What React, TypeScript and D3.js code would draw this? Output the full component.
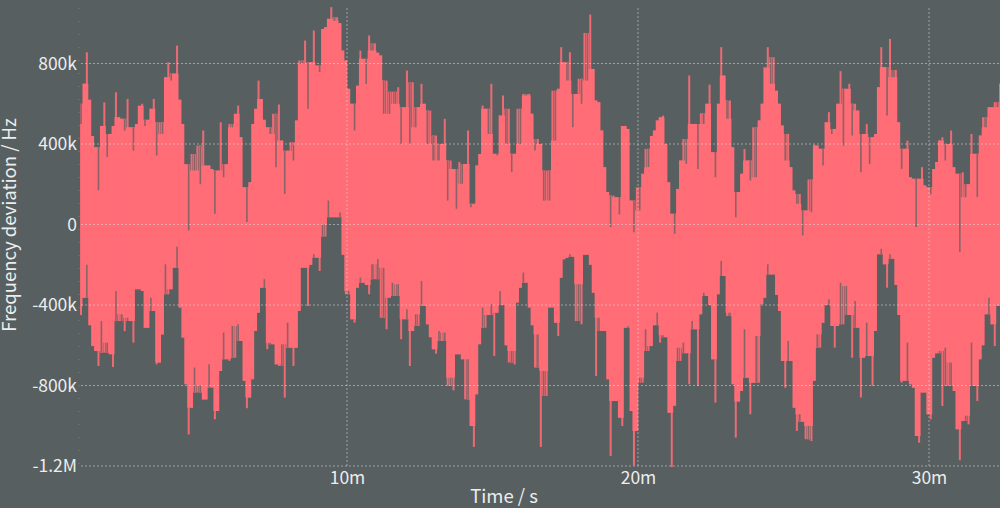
import React, { useEffect, useRef } from "react";
import * as d3 from "d3";

// sample spacing of the envelope, in the x axis unit
const startTime = 0.86;
const sampleStep = 0.1;

// top of the signal, kHz
const upperK = [
  500, 700, 856, 620, 440, 384, 170, 490, 607, 335,
  450, 490, 657, 533, 525, 467, 624, 483, 367, 500,
  590, 600, 490, 520, 575, 624, 343, 508, 450, 732,
  806, 715, 750, 889, 620, 500, 300, -30, 350, 268,
  392, 200, 467, 293, 293, 276, 53, 268, 508, 235,
  300, 500, 483, 550, 591, 434, 185, 12, 210, 500,
  575, 715, 624, 520, 483, 450, 550, 285, 596, 417,
  152, 367, 409, 318, 517, 815, 798, 914, 575, 806,
  964, 790, 757, 972, 980, 1022, 1080, 1013, 1030, 1000,
  864, 815, 674, 600, 467, 690, 864, 823, 699, 939,
  864, 900, 853, 840, 550, 715, 550, 660, 600, 682,
  400, 583, 765, 400, 707, 483, 583, 699, 600, 400,
  566, 318, 442, 318, 400, 525, 119, 318, 276, 78,
  310, 202, 301, 467, 86, 103, 293, 350, 591, 575,
  450, 699, 351, 343, 541, 641, 400, 575, 260, 351,
  575, 400, 649, 641, 649, 550, 368, 425, 400, 119,
  268, 119, 665, 417, 674, 881, 806, 715, 856, 483,
  649, 724, 600, 952, 715, 1043, 773, 616, 608, 467,
  285, 161, -13, 144, 136, 50, 490, 490, 475, 119,
  -38, 185, 70, 252, 376, 285, 440, 467, 517, 533,
  541, 400, 210, 53, -46, 177, 318, 425, 301, 740,
  500, 500, 276, 553, 500, 600, 695, 359, 235, 600,
  881, 740, 525, 616, 384, 36, 161, 252, 376, 318,
  219, 483, 235, 517, 600, 780, 881, 699, 831, 665,
  600, 492, 318, 450, 285, 169, 103, 152, -55, 70,
  224, 61, 397, 392, 376, 293, 508, 558, 450, 475,
  600, 762, 392, 674, 699, 442, 600, 566, 260, 450,
  500, 301, 434, 450, 682, 881, 782, 541, 922, 732,
  768, 508, 276, 376, 417, 235, 227, -13, 227, 285,
  194, 185, 150, 276, 310, 417, 434, 318, 400, 467,
  285, 252, -137, 260, 136, 200, 450, 351, 136, 442,
  533, 483, 583, 583, 608, 583, 699, 700, 720, 700,
];

// bottom of the signal, kHz
const lowerK = [
  -450, -364, -200, -500, -604, -628, -703, -480, -637, -587,
  -645, -708, -330, -480, -446, -530, -463, -480, -587, -322,
  -322, -330, -513, -513, -364, -430, -695, -686, -546, -198,
  -347, -322, -215, -110, -413, -562, -794, -1043, -910, -711,
  -835, -800, -869, -869, -695, -810, -968, -927, -728, -537,
  -670, -678, -504, -662, -496, -579, -777, -913, -860, -769,
  -529, -438, -314, -272, -620, -587, -595, -695, -703, -595,
  -860, -488, -612, -703, -612, -430, -215, -215, -405, -200,
  -148, -165, -231, 0, -60, 119, 36, 36, 36, 60,
  -150, -347, -330, -471, -488, -314, -264, -289, -300, -347,
  -198, -272, -173, -463, -215, -521, -364, -289, -355, -297,
  -570, -471, -421, -703, -529, -446, -504, -281, -405, -496,
  -560, -620, -642, -529, -579, -537, -802, -761, -824, -645,
  -645, -670, -869, -670, -1001, -1105, -844, -595, -413, -513,
  -450, -396, -653, -438, -330, -400, -600, -686, -628, -695,
  -388, -314, -239, -289, -413, -500, -711, -546, -1105, -728,
  -852, -413, -413, -488, -554, -264, -173, -165, -148, -160,
  -480, -297, -496, -150, -150, -200, -339, -753, -463, -529,
  -529, -769, -1150, -877, -877, -960, -1001, -513, -504, -927,
  -1198, -1026, -761, -786, -521, -628, -604, -500, -438, -587,
  -550, -560, -935, -1205, -900, -612, -678, -587, -640, -794,
  -480, -521, -802, -446, -339, -355, -400, -670, -885, -347,
  -181, -256, -455, -438, -794, -1059, -880, -827, -521, -761,
  -943, -786, -554, -786, -396, -364, -198, -248, -248, -350,
  -430, -678, -811, -579, -678, -910, -1026, -943, -980, -1067,
  -1001, -1076, -777, -546, -612, -488, -400, -372, -504, -612,
  -504, -289, -496, -306, -450, -662, -380, -513, -860, -662,
  -488, -653, -802, -529, -148, -120, -198, -314, -148, -170,
  -300, -450, -786, -777, -587, -794, -811, -1051, -1084, -835,
  -835, -943, -968, -662, -640, -628, -902, -612, -802, -686,
  -827, -1017, -1172, -976, -950, -993, -587, -802, -877, -670,
  -600, -446, -364, -496, -604, -405, -400, -420, -400, -430,
];

const yTicks = [-1200000, -800000, -400000, 0, 400000, 800000];
const yTickLabels = ["-1.2M", "-800k", "-400k", "0", "400k", "800k"];
const xTicks = [10, 20, 30];

const width = 1000;
const height = 508;
const pink = "#ff6d77";
const bg = "#575f60";
const fontFamily = "'Noto Sans CJK SC', 'Noto Sans', sans-serif";

type Sample = { t: number; hi: number; lo: number; bodyHi: number; bodyLo: number };

const App = () => {
  const svgRef = useRef<SVGSVGElement>(null);

  useEffect(() => {
    const svg = d3.select(svgRef.current);
    svg.selectAll("*").remove();

    const x = d3.scaleLinear().domain([10, 30]).range([347, 929]);
    const y = d3.scaleLinear().domain([-1200000, 800000]).range([466, 63.5]);

    // body of the signal is the running median, single samples become thin spikes
    const around = (arr: number[], i: number) => arr.slice(Math.max(0, i - 1), i + 2);
    const samples: Sample[] = upperK.map((u, i) => ({
      t: startTime + i * sampleStep,
      hi: u * 1000,
      lo: lowerK[i] * 1000,
      bodyHi: d3.median(around(upperK, i))! * 1000,
      bodyLo: d3.median(around(lowerK, i))! * 1000,
    }));

    const area = d3
      .area<Sample>()
      .x((d) => x(d.t))
      .y0((d) => y(d.bodyLo))
      .y1((d) => y(d.bodyHi))
      .curve(d3.curveStep);

    svg.append("path").datum(samples).attr("fill", pink).attr("d", area);

    // peaks sticking out of the body
    svg
      .append("g")
      .attr("stroke", pink)
      .attr("stroke-width", 2)
      .attr("stroke-opacity", 0.9)
      .selectAll("line")
      .data(samples)
      .join("line")
      .attr("x1", (d) => x(d.t))
      .attr("x2", (d) => x(d.t))
      .attr("y1", (d) => y(Math.max(d.hi, d.bodyHi)))
      .attr("y2", (d) => y(Math.min(d.lo, d.bodyLo)));

    // narrow notches cut into the body
    const notches = svg
      .append("g")
      .attr("stroke", bg)
      .attr("stroke-width", 1.6)
      .attr("stroke-opacity", 0.7);
    notches
      .selectAll("line.top")
      .data(samples.filter((d) => d.hi < d.bodyHi))
      .join("line")
      .attr("class", "top")
      .attr("x1", (d) => x(d.t))
      .attr("x2", (d) => x(d.t))
      .attr("y1", (d) => y(d.bodyHi))
      .attr("y2", (d) => y(d.hi));
    notches
      .selectAll("line.bottom")
      .data(samples.filter((d) => d.lo > d.bodyLo))
      .join("line")
      .attr("class", "bottom")
      .attr("x1", (d) => x(d.t))
      .attr("x2", (d) => x(d.t))
      .attr("y1", (d) => y(d.bodyLo))
      .attr("y2", (d) => y(d.lo));

    // dotted grid sits on top of the signal
    const grid = svg.append("g").attr("stroke", "#e4e6e6").attr("stroke-opacity", 0.5);
    grid
      .selectAll("line.h")
      .data(yTicks)
      .join("line")
      .attr("class", "h")
      .attr("x1", 81)
      .attr("x2", width)
      .attr("y1", (d) => y(d))
      .attr("y2", (d) => y(d))
      .attr("stroke-dasharray", "2 2");
    grid
      .selectAll("line.v")
      .data(xTicks)
      .join("line")
      .attr("class", "v")
      .attr("x1", (d) => x(d))
      .attr("x2", (d) => x(d))
      .attr("y1", 8)
      .attr("y2", 466)
      .attr("stroke-dasharray", "2 2");
    svg
      .append("line")
      .attr("x1", 79)
      .attr("x2", 79)
      .attr("y1", 8)
      .attr("y2", 466)
      .attr("stroke", "#e4e6e6")
      .attr("stroke-opacity", 0.25)
      .attr("stroke-dasharray", "1 12");

    const yAxis = d3
      .axisLeft(y)
      .tickValues(yTicks)
      .tickSize(0)
      .tickPadding(0)
      .tickFormat((_, i) => yTickLabels[i]);
    const yG = svg.append("g").attr("transform", "translate(77,0)").call(yAxis);

    const xAxis = d3
      .axisBottom(x)
      .tickValues(xTicks)
      .tickSize(0)
      .tickPadding(0)
      .tickFormat((d) => `${d}m`);
    const xG = svg.append("g").attr("transform", "translate(0,472)").call(xAxis);

    [yG, xG].forEach((g) => {
      g.select(".domain").remove();
      g.selectAll("text")
        .attr("fill", "#eceeee")
        .style("font-family", fontFamily)
        .style("font-size", "17.5px");
    });

    svg
      .append("text")
      .attr("x", 504)
      .attr("y", 503)
      .attr("text-anchor", "middle")
      .attr("fill", "#eceeee")
      .style("font-family", fontFamily)
      .style("font-size", "18.5px")
      .text("Time / s");

    svg
      .append("text")
      .attr("transform", "translate(16,225) rotate(-90)")
      .attr("text-anchor", "middle")
      .attr("fill", "#eceeee")
      .style("font-family", fontFamily)
      .style("font-size", "18.5px")
      .text("Frequency deviation / Hz");
  }, []);

  return (
    <svg
      ref={svgRef}
      width={width}
      height={height}
      style={{ position: "fixed", left: 0, top: 0, background: bg, display: "block" }}
    />
  );
};

export default App;
